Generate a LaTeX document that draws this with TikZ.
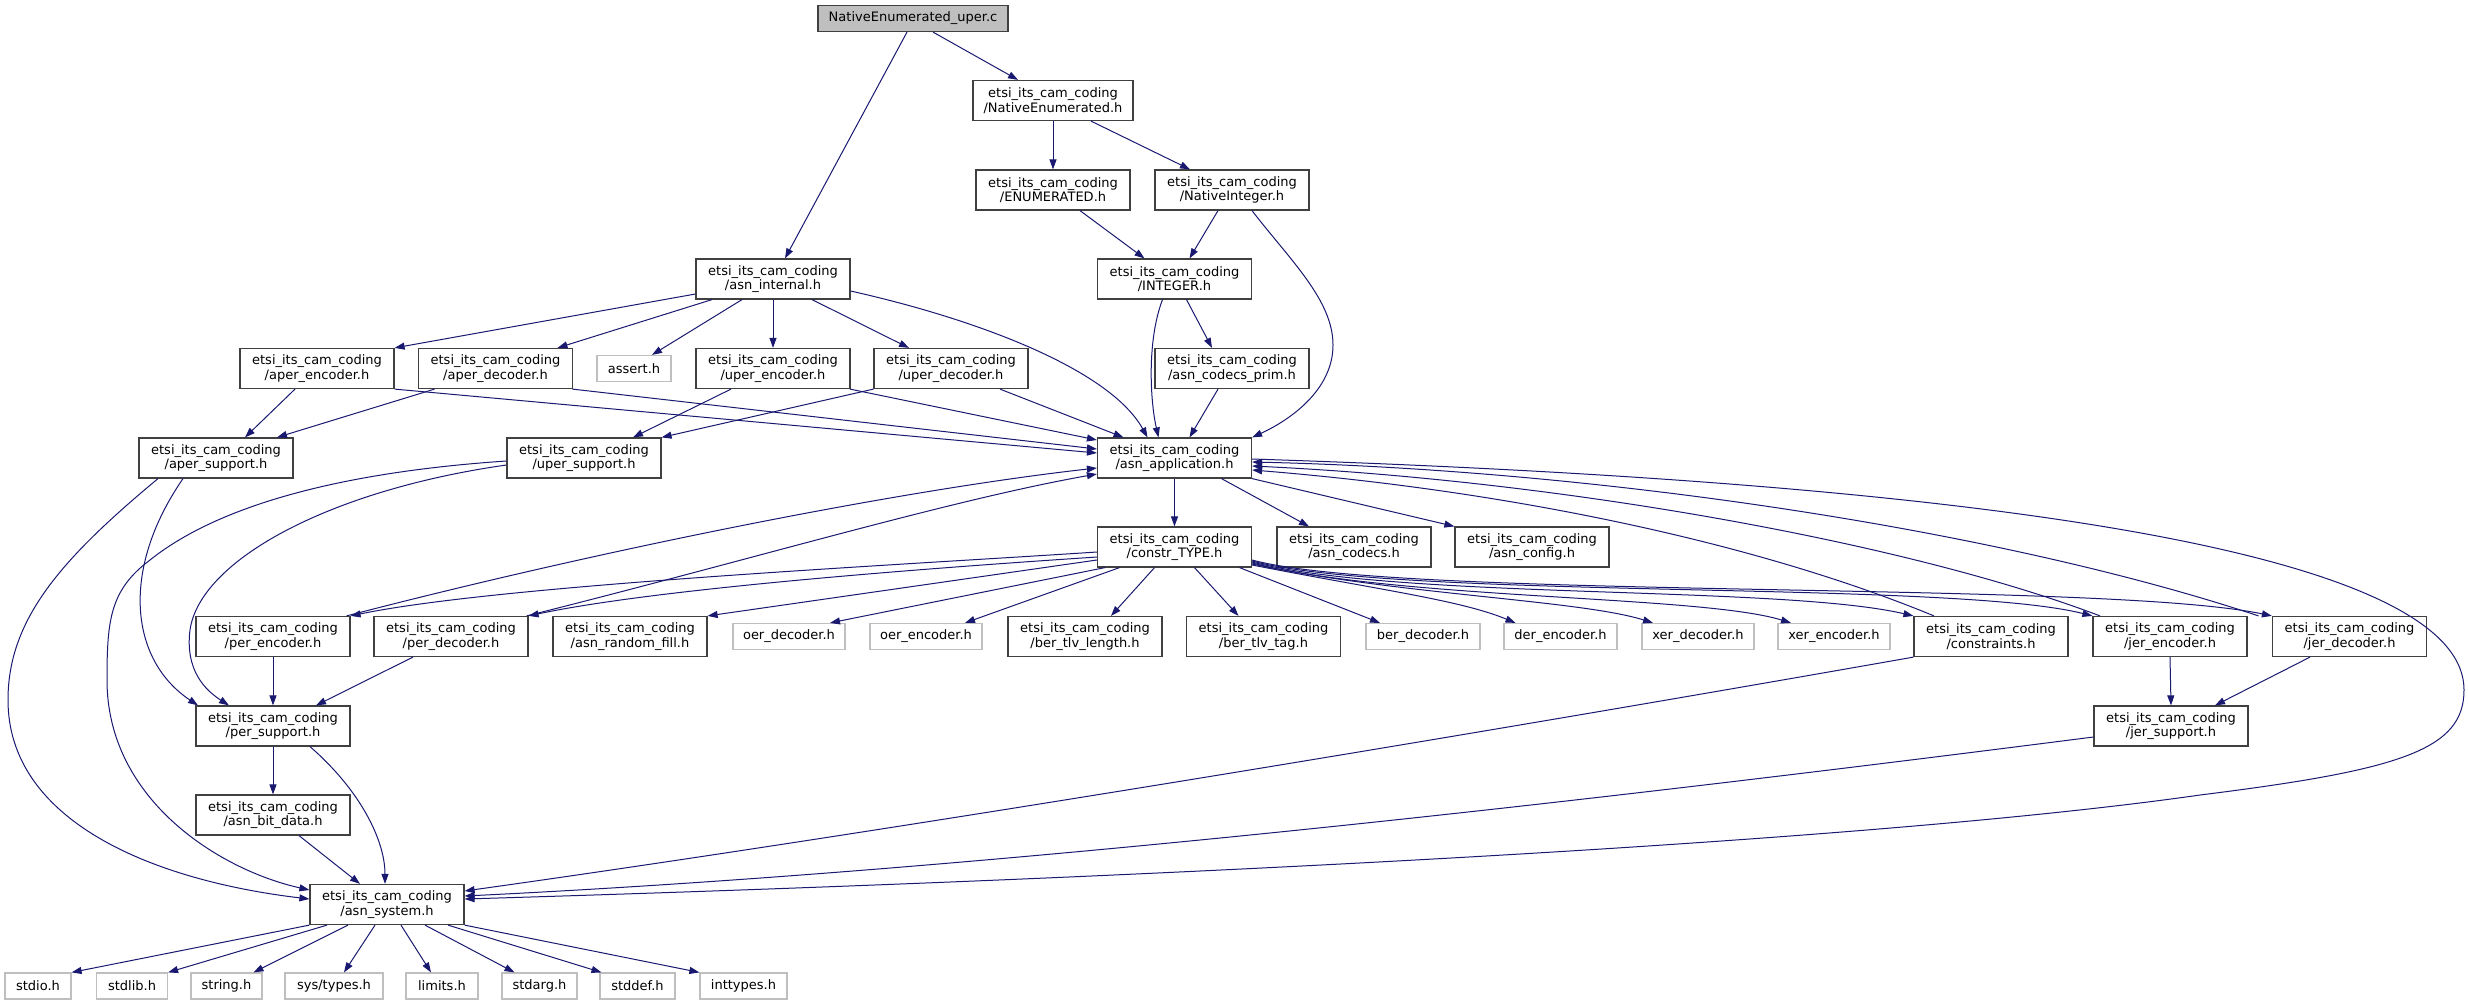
\documentclass[tikz,border=0pt]{standalone}
\usepackage{fontspec}
\setmainfont{DejaVu Sans}
\usetikzlibrary{arrows.meta}
\definecolor{edgecol}{HTML}{191970}
\definecolor{bord}{HTML}{404040}
\definecolor{gbord}{HTML}{BFBFBF}
\definecolor{gfill}{HTML}{BFBFBF}
\begin{document}
\begin{tikzpicture}[x=1pt,y=-1pt,
  lbl/.style={font=\fontsize{13}{14.5}\selectfont, inner sep=0pt, align=center},
  box/.style={lbl, draw=bord, line width=1.2pt, fill=white, minimum width=154pt, minimum height=40pt},
  sysbox/.style={lbl, draw=gbord, line width=1.2pt, fill=white, minimum height=26pt},
  topbox/.style={lbl, draw=bord, line width=1.2pt, fill=gfill, minimum height=26pt, minimum width=190pt},
  conn/.style={draw=edgecol, line width=1pt, -{Triangle[length=10pt,width=7pt]}}]
\useasboundingbox (0,0) rectangle (2468,1005);

% nodes
\node[topbox] (uperc) at (913,18.5) {NativeEnumerated\_uper.c};
\node[box, minimum width=160pt] (natenum) at (1053,100.5) {etsi\_its\_cam\_coding\\/NativeEnumerated.h};
\node[box] (enumh) at (1053,190) {etsi\_its\_cam\_coding\\/ENUMERATED.h};
\node[box] (natint) at (1232,190) {etsi\_its\_cam\_coding\\/NativeInteger.h};
\node[box] (asnint) at (773,279) {etsi\_its\_cam\_coding\\/asn\_internal.h};
\node[box] (integer) at (1174.5,279) {etsi\_its\_cam\_coding\\/INTEGER.h};
\node[box] (aperenc) at (317,368.5) {etsi\_its\_cam\_coding\\/aper\_encoder.h};
\node[box] (aperdec) at (495.5,368.5) {etsi\_its\_cam\_coding\\/aper\_decoder.h};
\node[sysbox, minimum width=74pt] (assert) at (634,368.5) {assert.h};
\node[box] (uperenc) at (773,368.5) {etsi\_its\_cam\_coding\\/uper\_encoder.h};
\node[box] (uperdec) at (951,368.5) {etsi\_its\_cam\_coding\\/uper\_decoder.h};
\node[box] (codecsprim) at (1232,368.5) {etsi\_its\_cam\_coding\\/asn\_codecs\_prim.h};
\node[box] (apersup) at (216,458) {etsi\_its\_cam\_coding\\/aper\_support.h};
\node[box] (upersup) at (584,458) {etsi\_its\_cam\_coding\\/uper\_support.h};
\node[box] (asnapp) at (1174.5,458) {etsi\_its\_cam\_coding\\/asn\_application.h};
\node[box] (constr) at (1174.5,547) {etsi\_its\_cam\_coding\\/constr\_TYPE.h};
\node[box] (asncodecs) at (1354,547) {etsi\_its\_cam\_coding\\/asn\_codecs.h};
\node[box] (asnconfig) at (1532,547) {etsi\_its\_cam\_coding\\/asn\_config.h};
\node[box] (perenc) at (273,636.5) {etsi\_its\_cam\_coding\\/per\_encoder.h};
\node[box] (perdec) at (451,636.5) {etsi\_its\_cam\_coding\\/per\_decoder.h};
\node[box] (randfill) at (630,636.5) {etsi\_its\_cam\_coding\\/asn\_random\_fill.h};
\node[sysbox, minimum width=112pt] (oerdec) at (789,636.5) {oer\_decoder.h};
\node[sysbox, minimum width=112pt] (oerenc) at (926,636.5) {oer\_encoder.h};
\node[box] (bertlvlen) at (1085,636.5) {etsi\_its\_cam\_coding\\/ber\_tlv\_length.h};
\node[box] (bertlvtag) at (1263.5,636.5) {etsi\_its\_cam\_coding\\/ber\_tlv\_tag.h};
\node[sysbox, minimum width=114pt] (berdec) at (1423,636.5) {ber\_decoder.h};
\node[sysbox, minimum width=113pt] (derenc) at (1560.5,636.5) {der\_encoder.h};
\node[sysbox, minimum width=112pt] (xerdec) at (1698,636.5) {xer\_decoder.h};
\node[sysbox, minimum width=112pt] (xerenc) at (1834,636.5) {xer\_encoder.h};
\node[box] (constraints) at (1991,636.5) {etsi\_its\_cam\_coding\\/constraints.h};
\node[box] (jerenc) at (2170,636.5) {etsi\_its\_cam\_coding\\/jer\_encoder.h};
\node[box] (jerdec) at (2349.5,636.5) {etsi\_its\_cam\_coding\\/jer\_decoder.h};
\node[box] (persup) at (273,726) {etsi\_its\_cam\_coding\\/per\_support.h};
\node[box] (jersup) at (2171,726) {etsi\_its\_cam\_coding\\/jer\_support.h};
\node[box] (bitdata) at (273,815) {etsi\_its\_cam\_coding\\/asn\_bit\_data.h};
\node[box] (asnsys) at (387,904.5) {etsi\_its\_cam\_coding\\/asn\_system.h};
\node[sysbox, minimum width=66pt] (stdio) at (38,986) {stdio.h};
\node[sysbox, minimum width=71pt] (stdlib) at (132,986) {stdlib.h};
\node[sysbox, minimum width=71pt] (string) at (226.5,986) {string.h};
\node[sysbox, minimum width=98pt] (systypes) at (334,986) {sys/types.h};
\node[sysbox, minimum width=72pt] (limits) at (442,986) {limits.h};
\node[sysbox, minimum width=75pt] (stdarg) at (539.5,986) {stdarg.h};
\node[sysbox, minimum width=75pt] (stddef) at (637.5,986) {stddef.h};
\node[sysbox, minimum width=87pt] (inttypes) at (743.5,986) {inttypes.h};

% edges: top part
\draw[conn] ([xshift=20pt]uperc.south) -- ([xshift=-35pt]natenum.north);
\draw[conn] ([xshift=-6pt]uperc.south) -- ([xshift=12pt]asnint.north);
\draw[conn] (natenum.south) -- (enumh.north);
\draw[conn] ([xshift=38pt]natenum.south) -- ([xshift=-42pt]natint.north);
\draw[conn] ([xshift=27pt]enumh.south) -- ([xshift=-30pt]integer.north);
\draw[conn] ([xshift=-14pt]natint.south) -- ([xshift=15pt]integer.north);
\draw[conn] ([xshift=20pt]natint.south) .. controls (1290,260) and (1333,300) .. (1333,345) .. controls (1333,390) and (1290,420) .. (asnapp.north east);
\draw[conn] ([xshift=-12pt]integer.south) .. controls (1147,340) and (1150,400) .. ([xshift=-16pt]asnapp.north);
\draw[conn] ([xshift=12pt]integer.south) -- ([xshift=-20pt]codecsprim.north);
\draw[conn] ([xshift=-14pt]codecsprim.south) -- ([xshift=15pt]asnapp.north);

% asn_internal
\draw[conn] ([yshift=-15pt]asnint.west) -- (aperenc.north east);
\draw[conn] ([xshift=-61pt]asnint.south) -- ([xshift=62pt]aperdec.north);
\draw[conn] ([xshift=-31pt]asnint.south) -- ([xshift=18pt]assert.north);
\draw[conn] (asnint.south) -- (uperenc.north);
\draw[conn] ([xshift=39pt]asnint.south) -- ([xshift=-42pt]uperdec.north);
\draw[conn] ([yshift=-12pt]asnint.east) .. controls (980,320) and (1110,370) .. ([xshift=-27pt]asnapp.north);

% codec level
\draw[conn] ([xshift=-22pt]aperenc.south) -- ([xshift=29pt]apersup.north);
\draw[conn] (aperenc.south east) -- ([yshift=5pt]asnapp.west);
\draw[conn] ([xshift=-61pt]aperdec.south) -- ([xshift=61pt]apersup.north);
\draw[conn] ([xshift=77pt]aperdec.south) -- ([yshift=9pt]asnapp.west);
\draw[conn] ([xshift=-42pt]uperenc.south) -- ([xshift=49pt]upersup.north);
\draw[conn] ([xshift=77pt]uperenc.south) -- ([yshift=18pt]asnapp.west);
\draw[conn] (uperdec.south west) -- (upersup.north east);
\draw[conn] ([xshift=49pt]uperdec.south) -- ([xshift=-51pt]asnapp.north);

% supports on the left
\draw[conn] ([xshift=-58pt]apersup.south) .. controls (60,560) and (8,620) .. (8,700) .. controls (8,820) and (150,880) .. ([yshift=5.5pt]asnsys.west);
\draw[conn] ([xshift=-33pt]apersup.south) .. controls (120,570) and (130,660) .. ([xshift=-75pt]persup.north);
\draw[conn] ([yshift=-7pt]upersup.west) .. controls (330,490) and (200,560) .. (190,630) .. controls (185,670) and (205,690) .. ([xshift=-44pt]persup.north);
\draw[conn] ([yshift=-3pt]upersup.west) .. controls (300,475) and (200,520) .. (150,560) .. controls (110,590) and (107,620) .. (107,680) .. controls (107,800) and (220,870) .. ([yshift=14.5pt]asnsys.west);

% asn_application outgoing
\draw[conn] (asnapp.south) -- (constr.north);
\draw[conn] ([xshift=47pt]asnapp.south) -- ([xshift=-45pt]asncodecs.north);
\draw[conn] (asnapp.south east) -- (asnconfig.north west);
\draw[conn] ([yshift=-1pt]asnapp.east) .. controls (1900,480) and (2464,540) .. (2464,690) .. controls (2464,750) and (2400,770) .. (2200,795) .. controls (1850,845) and (1100,880) .. ([yshift=5.5pt]asnsys.east);

% constr_TYPE fan
\draw[conn] ([yshift=-5pt]constr.west) .. controls (900,565) and (500,585) .. (perenc.north east);
\draw[conn] ([yshift=-10pt]constr.west) .. controls (900,570) and (650,590) .. (perdec.north east);
\draw[conn] ([yshift=-13pt]constr.west) -- (randfill.north east);
\draw[conn] ([xshift=-69.5pt]constr.south) -- ([xshift=41pt]oerdec.north);
\draw[conn] ([xshift=-55pt]constr.south) -- ([xshift=39pt]oerenc.north);
\draw[conn] ([xshift=-20pt]constr.south) -- ([xshift=26pt]bertlvlen.north);
\draw[conn] ([xshift=20pt]constr.south) -- ([xshift=-25pt]bertlvtag.north);
\draw[conn] ([xshift=65pt]constr.south) -- ([xshift=-43pt]berdec.north);
\draw[conn] ([yshift=-18pt]constr.east) .. controls (1380,590) and (1460,600) .. ([xshift=-45pt]derenc.north);
\draw[conn] ([yshift=-17pt]constr.east) .. controls (1400,595) and (1580,600) .. ([xshift=-45pt]xerdec.north);
\draw[conn] ([yshift=-16pt]constr.east) .. controls (1400,600) and (1700,595) .. ([xshift=-43pt]xerenc.north);
\draw[conn] ([yshift=-15pt]constr.east) .. controls (1400,600) and (1780,585) .. (constraints.north west);
\draw[conn] ([yshift=-14pt]constr.east) .. controls (1400,600) and (1950,580) .. (jerenc.north west);
\draw[conn] ([yshift=-13pt]constr.east) .. controls (1400,600) and (2100,580) .. (jerdec.north west);

% back to asn_application
\draw[conn] ([xshift=-4pt]perenc.north east) .. controls (600,550) and (900,490) .. ([yshift=-10pt]asnapp.west);
\draw[conn] ([xshift=-2pt]perdec.north east) .. controls (750,560) and (950,500) .. ([yshift=-16pt]asnapp.west);
\draw[conn] ([xshift=-57pt]constraints.north) .. controls (1750,540) and (1500,490) .. ([yshift=-12pt]asnapp.east);
\draw[conn] ([xshift=-70pt]jerenc.north) .. controls (1900,540) and (1550,480) .. ([yshift=-8pt]asnapp.east);
\draw[conn] ([xshift=-91pt]jerdec.north) .. controls (2000,530) and (1600,470) .. ([yshift=-4pt]asnapp.east);

% per / jer supports
\draw[conn] (perenc.south) -- (persup.north);
\draw[conn] ([xshift=-38pt]perdec.south) -- ([xshift=43pt]persup.north);
\draw[conn] (persup.south) -- (bitdata.north);
\draw[conn] ([xshift=37pt]persup.south) .. controls (360,790) and (385,840) .. ([xshift=-2pt]asnsys.north);
\draw[conn] ([xshift=26pt]bitdata.south) -- ([xshift=-27pt]asnsys.north);
\draw[conn] (constraints.south west) .. controls (1500,730) and (900,830) .. ([yshift=13.5pt]asnsys.east);
\draw[conn] (jerenc.south) -- (jersup.north);
\draw[conn] ([xshift=-39.5pt]jerdec.south) -- ([xshift=44pt]jersup.north);
\draw[conn] ([yshift=-11pt]jersup.west) .. controls (1600,800) and (1000,870) .. ([yshift=8.5pt]asnsys.east);

% asn_system fan
\draw[conn] (asnsys.south west) -- (stdio.north east);
\draw[conn] ([xshift=-60pt]asnsys.south) -- (stdlib.north east);
\draw[conn] ([xshift=-39pt]asnsys.south) -- ([xshift=27pt]string.north);
\draw[conn] ([xshift=-12pt]asnsys.south) -- ([xshift=10pt]systypes.north);
\draw[conn] ([xshift=14pt]asnsys.south) -- ([xshift=-11pt]limits.north);
\draw[conn] ([xshift=38pt]asnsys.south) -- ([xshift=-25pt]stdarg.north);
\draw[conn] ([xshift=61pt]asnsys.south) -- ([xshift=-36pt]stddef.north);
\draw[conn] (asnsys.south east) -- (inttypes.north west);
\end{tikzpicture}
\end{document}
